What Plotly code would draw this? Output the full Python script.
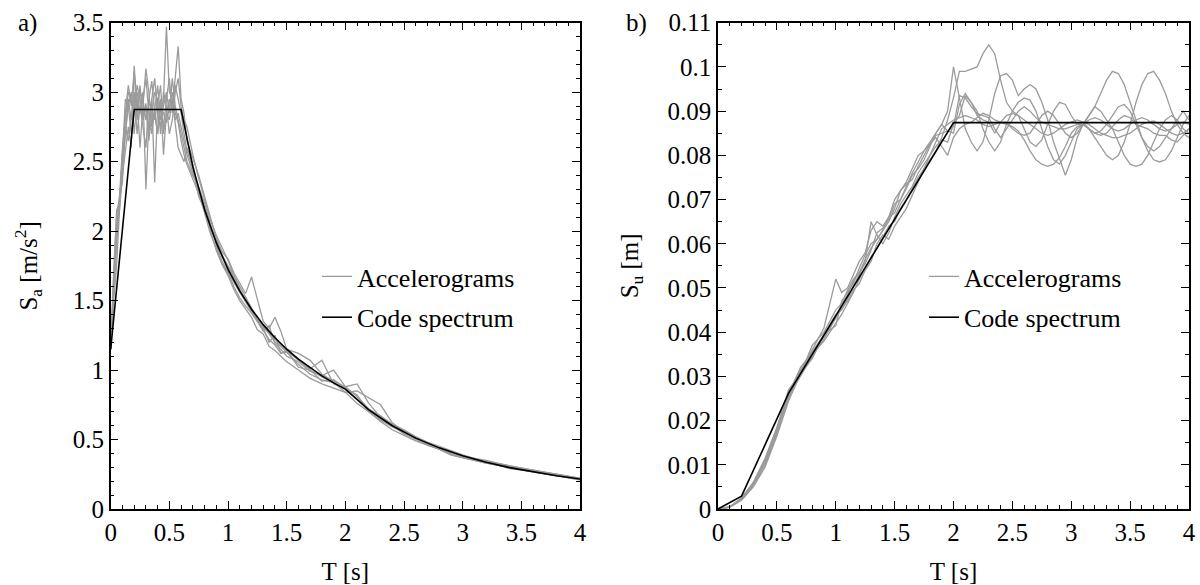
import plotly.graph_objects as go

# ---------------- Data: panel a) pseudo-acceleration spectra ----------------
T_acc = [0, 0.025, 0.05, 0.075, 0.1, 0.125, 0.15, 0.175, 0.2, 0.225, 0.25, 0.275, 0.3,
         0.325, 0.35, 0.375, 0.4, 0.425, 0.45, 0.475, 0.5, 0.525, 0.55, 0.575, 0.6, 0.625, 0.65,
         0.7, 0.75, 0.8, 0.85, 0.9, 0.95, 1.0, 1.05, 1.1, 1.15, 1.2, 1.25, 1.3, 1.35, 1.4, 1.45, 1.5,
         1.6, 1.7, 1.8, 1.9, 2.0, 2.1, 2.2, 2.3, 2.4, 2.5, 2.6, 2.7, 2.8, 2.9, 3.0,
         3.2, 3.4, 3.6, 3.8, 4.0]

sa_acc1 = [1.15, 1.60, 2.15, 2.20, 2.45, 2.75, 2.95, 2.80, 2.95, 2.88, 3.05, 2.80, 2.92, 2.70, 2.95, 3.10,
           2.85, 2.75, 2.95, 3.47, 3.00, 2.95, 2.80, 2.85, 2.75, 2.65, 2.55,
           2.42, 2.30, 2.18, 2.02, 1.92, 1.83, 1.74, 1.66, 1.58, 1.50, 1.44, 1.38, 1.32, 1.27, 1.22, 1.18, 1.14,
           1.07, 1.00, 0.95, 0.91, 0.86, 0.79, 0.71, 0.65, 0.60, 0.55, 0.51, 0.47, 0.44, 0.41, 0.38,
           0.335, 0.30, 0.265, 0.24, 0.215]
sa_acc2 = [1.15, 1.50, 1.75, 2.15, 2.40, 2.60, 2.75, 2.60, 3.19, 2.90, 2.85, 3.00, 2.30, 2.80, 2.95, 2.35,
           2.90, 3.05, 2.70, 2.85, 2.95, 2.88, 3.10, 3.33, 2.95, 2.85, 2.65,
           2.52, 2.40, 2.25, 2.10, 1.95, 1.85, 1.80, 1.70, 1.62, 1.55, 1.67, 1.50, 1.35, 1.30, 1.38, 1.28, 1.15,
           1.12, 1.07, 0.97, 0.92, 0.88, 0.90, 0.76, 0.66, 0.61, 0.57, 0.52, 0.48, 0.45, 0.42, 0.39,
           0.34, 0.31, 0.28, 0.25, 0.22]
sa_acc3 = [1.15, 1.55, 1.95, 2.18, 2.55, 2.70, 2.90, 3.00, 2.70, 2.95, 2.60, 2.90, 3.17, 3.00, 2.75, 2.85,
           2.70, 2.95, 2.55, 2.85, 2.80, 2.95, 2.75, 2.60, 2.55, 2.50, 2.60,
           2.48, 2.28, 2.12, 1.98, 1.88, 1.76, 1.68, 1.58, 1.50, 1.44, 1.38, 1.29, 1.26, 1.17, 1.14, 1.10, 1.06,
           1.00, 0.94, 0.90, 0.87, 0.84, 0.76, 0.70, 0.63, 0.57, 0.53, 0.49, 0.46, 0.43, 0.39, 0.37,
           0.33, 0.30, 0.27, 0.24, 0.21]
sa_acc4 = [1.15, 1.65, 2.05, 2.20, 2.50, 2.85, 3.05, 2.90, 3.15, 2.80, 3.00, 2.95, 3.10, 2.85, 2.70, 2.90,
           3.05, 2.80, 2.90, 3.00, 2.85, 3.10, 2.90, 2.80, 2.70, 2.58, 2.50,
           2.40, 2.32, 2.20, 2.05, 1.90, 1.78, 1.70, 1.63, 1.56, 1.49, 1.42, 1.36, 1.28, 1.32, 1.19, 1.15, 1.10,
           1.06, 0.99, 0.96, 1.00, 0.88, 0.81, 0.72, 0.66, 0.60, 0.54, 0.50, 0.46, 0.43, 0.40, 0.37,
           0.34, 0.29, 0.27, 0.24, 0.22]
sa_acc5 = [1.15, 1.58, 1.90, 2.25, 2.35, 2.75, 2.65, 2.85, 3.00, 2.70, 2.90, 2.75, 2.60, 2.95, 3.08, 2.85,
           2.70, 2.90, 2.75, 2.95, 3.10, 2.85, 3.05, 2.95, 2.85, 2.70, 2.58,
           2.45, 2.25, 2.15, 2.00, 1.86, 1.76, 1.70, 1.60, 1.52, 1.46, 1.41, 1.35, 1.29, 1.22, 1.18, 1.12, 1.13,
           1.08, 1.01, 1.07, 0.90, 0.87, 0.82, 0.70, 0.64, 0.59, 0.55, 0.51, 0.47, 0.43, 0.39, 0.37,
           0.33, 0.30, 0.27, 0.25, 0.22]
sa_acc6 = [1.15, 1.62, 2.00, 2.15, 2.55, 2.95, 2.90, 2.70, 2.85, 3.05, 2.95, 2.80, 2.90, 2.65, 2.85, 3.00,
           2.95, 2.70, 3.00, 2.90, 2.70, 2.80, 3.00, 3.10, 2.90, 2.80, 2.75,
           2.55, 2.38, 2.22, 2.08, 1.97, 1.88, 1.79, 1.68, 1.60, 1.52, 1.45, 1.37, 1.31, 1.26, 1.20, 1.17, 1.13,
           1.04, 0.97, 0.93, 0.91, 0.84, 0.85, 0.80, 0.75, 0.62, 0.56, 0.52, 0.48, 0.44, 0.41, 0.38,
           0.34, 0.31, 0.27, 0.24, 0.21]
sa_acc7 = [1.15, 1.70, 2.10, 2.25, 2.60, 2.80, 3.00, 2.95, 2.88, 3.00, 2.85, 2.95, 2.80, 2.92, 2.90, 2.80,
           2.95, 2.90, 2.85, 2.78, 2.90, 3.00, 2.85, 2.78, 2.65, 2.55, 2.48,
           2.38, 2.27, 2.16, 2.04, 1.94, 1.82, 1.75, 1.68, 1.58, 1.50, 1.43, 1.36, 1.30, 1.20, 1.25, 1.12, 1.14,
           1.02, 1.00, 0.92, 0.93, 0.87, 0.79, 0.72, 0.67, 0.61, 0.56, 0.51, 0.47, 0.44, 0.40, 0.38,
           0.35, 0.31, 0.28, 0.25, 0.22]

T_code_sa = [0, 0.2, 0.6, 0.7, 0.8, 0.9, 1.0, 1.1, 1.2, 1.3, 1.4, 1.5, 1.6, 1.7, 1.8, 1.9, 2.0,
             2.2, 2.4, 2.6, 2.8, 3.0, 3.2, 3.4, 3.6, 3.8, 4.0]
sa_code = [1.15, 2.875, 2.875, 2.464, 2.156, 1.917, 1.725, 1.568, 1.438, 1.327, 1.232, 1.150, 1.078,
           1.015, 0.958, 0.908, 0.863, 0.713, 0.599, 0.510, 0.440, 0.383, 0.337, 0.298, 0.266, 0.239, 0.216]

# ---------------- Data: panel b) displacement spectra ----------------
T_dis = [0, 0.1, 0.2, 0.3, 0.4, 0.5, 0.6, 0.7, 0.8, 0.9, 1.0,
         1.05, 1.1, 1.15, 1.2, 1.25, 1.3, 1.35, 1.4, 1.45, 1.5, 1.55, 1.6, 1.65, 1.7, 1.75, 1.8, 1.85, 1.9, 1.95, 2.0,
         2.05, 2.1, 2.15, 2.2, 2.25, 2.3, 2.35, 2.4, 2.45, 2.5, 2.55, 2.6, 2.65, 2.7, 2.75, 2.8, 2.85, 2.9, 2.95, 3.0,
         3.05, 3.1, 3.15, 3.2, 3.25, 3.3, 3.35, 3.4, 3.45, 3.5, 3.55, 3.6, 3.65, 3.7, 3.75, 3.8, 3.85, 3.9, 3.95, 4.0]

su_acc1 = [0, 0.0004, 0.0022, 0.0055, 0.0105, 0.0172, 0.0255, 0.0300, 0.0345, 0.0385, 0.0430,
           0.0455, 0.0470, 0.0495, 0.0510, 0.0540, 0.0560, 0.0600, 0.0620, 0.0610, 0.0640, 0.0660, 0.0680, 0.0710,
           0.0740, 0.0770, 0.0790, 0.0810, 0.0840, 0.0880, 0.0930,
           0.099, 0.099, 0.0995, 0.100, 0.103, 0.105, 0.103, 0.097, 0.092, 0.090,
           0.089, 0.088, 0.087, 0.086, 0.085, 0.0845, 0.085, 0.086, 0.087, 0.0875,
           0.088, 0.0875, 0.087, 0.086, 0.085, 0.0845, 0.084, 0.084, 0.0845, 0.085,
           0.086, 0.087, 0.0875, 0.0878, 0.087, 0.086, 0.085, 0.0845, 0.085, 0.086]
su_acc2 = [0, 0.0005, 0.0025, 0.0060, 0.0110, 0.0180, 0.0265, 0.0310, 0.0360, 0.0410, 0.0520,
           0.0490, 0.0500, 0.0530, 0.0560, 0.0580, 0.0630, 0.0650, 0.0640, 0.0660, 0.0700, 0.0720, 0.0740, 0.0770,
           0.0800, 0.0810, 0.0830, 0.0850, 0.0870, 0.0900, 0.1000,
           0.093, 0.086, 0.083, 0.081, 0.083, 0.088, 0.094, 0.098, 0.0985, 0.097,
           0.0935, 0.095, 0.096, 0.095, 0.092, 0.088, 0.083, 0.079, 0.0755, 0.079,
           0.084, 0.087, 0.089, 0.091, 0.094, 0.097, 0.099, 0.0985, 0.096, 0.092,
           0.088, 0.084, 0.081, 0.079, 0.0785, 0.079, 0.081, 0.084, 0.087, 0.089]
su_acc3 = [0, 0.0004, 0.0020, 0.0050, 0.0095, 0.0165, 0.0245, 0.0305, 0.0340, 0.0395, 0.0440,
           0.0450, 0.0475, 0.0505, 0.0530, 0.0560, 0.0650, 0.0620, 0.0600, 0.0625, 0.0660, 0.0690, 0.0710, 0.0730,
           0.0760, 0.0780, 0.0800, 0.0820, 0.0835, 0.0830, 0.0870,
           0.089, 0.0935, 0.092, 0.090, 0.086, 0.083, 0.081, 0.083, 0.087, 0.090,
           0.092, 0.093, 0.0925, 0.090, 0.086, 0.082, 0.079, 0.078, 0.080, 0.083,
           0.086, 0.087, 0.086, 0.084, 0.082, 0.080, 0.079, 0.080, 0.083, 0.087,
           0.092, 0.096, 0.0985, 0.099, 0.097, 0.094, 0.090, 0.087, 0.085, 0.084]
su_acc4 = [0, 0.0005, 0.0023, 0.0058, 0.0110, 0.0175, 0.0250, 0.0315, 0.0350, 0.0380, 0.0420,
           0.0440, 0.0465, 0.0490, 0.0520, 0.0545, 0.0570, 0.0590, 0.0615, 0.0640, 0.0650, 0.0680, 0.0700, 0.0725,
           0.0750, 0.0770, 0.0800, 0.0830, 0.0860, 0.0870, 0.0880,
           0.0885, 0.089, 0.0885, 0.088, 0.087, 0.0865, 0.087, 0.0875, 0.0875, 0.086,
           0.085, 0.0845, 0.085, 0.087, 0.089, 0.090, 0.089, 0.087, 0.085, 0.084,
           0.085, 0.087, 0.088, 0.0885, 0.088, 0.087, 0.086, 0.0855, 0.086, 0.087,
           0.088, 0.0885, 0.088, 0.087, 0.086, 0.0855, 0.086, 0.087, 0.0875, 0.087]
su_acc5 = [0, 0.0004, 0.0021, 0.0052, 0.0100, 0.0168, 0.0260, 0.0320, 0.0355, 0.0395, 0.0415,
           0.0470, 0.0490, 0.0510, 0.0545, 0.0575, 0.0600, 0.0610, 0.0630, 0.0650, 0.0680, 0.0720, 0.0735, 0.0745,
           0.0775, 0.0800, 0.0825, 0.0845, 0.0850, 0.0855, 0.0850,
           0.0915, 0.094, 0.092, 0.089, 0.088, 0.0875, 0.085, 0.0875, 0.089, 0.0895,
           0.089, 0.086, 0.083, 0.082, 0.0835, 0.087, 0.090, 0.092, 0.0915, 0.089,
           0.087, 0.087, 0.086, 0.085, 0.0855, 0.087, 0.089, 0.091, 0.0915, 0.090,
           0.087, 0.084, 0.082, 0.081, 0.082, 0.084, 0.086, 0.088, 0.090, 0.088]
su_acc6 = [0, 0.0005, 0.0024, 0.0060, 0.0115, 0.0185, 0.0270, 0.0305, 0.0370, 0.0400, 0.0450,
           0.0465, 0.0495, 0.0520, 0.0535, 0.0555, 0.0585, 0.0625, 0.0635, 0.0655, 0.0690, 0.0700, 0.0730, 0.0760,
           0.0785, 0.0810, 0.0825, 0.0840, 0.0820, 0.0800, 0.0840,
           0.086, 0.087, 0.0875, 0.0885, 0.0895, 0.089, 0.088, 0.0875, 0.087, 0.0865,
           0.0855, 0.0835, 0.081, 0.079, 0.078, 0.0775, 0.078, 0.0795, 0.082, 0.085,
           0.0865, 0.087, 0.089, 0.091, 0.090, 0.088, 0.086, 0.083, 0.080, 0.078,
           0.0775, 0.078, 0.080, 0.083, 0.086, 0.088, 0.089, 0.088, 0.086, 0.085]
su_acc7 = [0, 0.0004, 0.0023, 0.0057, 0.0108, 0.0178, 0.0262, 0.0312, 0.0355, 0.0390, 0.0435,
           0.0460, 0.0485, 0.0515, 0.0535, 0.0565, 0.0590, 0.0610, 0.0630, 0.0660, 0.0670, 0.0700, 0.0725, 0.0755,
           0.0770, 0.0790, 0.0820, 0.0850, 0.0870, 0.0855, 0.0865,
           0.0935, 0.093, 0.091, 0.0895, 0.089, 0.0885, 0.086, 0.084, 0.086, 0.088,
           0.090, 0.091, 0.090, 0.0885, 0.0875, 0.087, 0.0865, 0.086, 0.086, 0.0865,
           0.087, 0.0875, 0.086, 0.085, 0.0845, 0.085, 0.0865, 0.088, 0.089, 0.0885,
           0.087, 0.0865, 0.086, 0.085, 0.0845, 0.0845, 0.0835, 0.083, 0.0845, 0.086]

T_code_su = [0, 0.2, 0.6, 2.0, 4.0]
su_code = [0, 0.0029, 0.0262, 0.0874, 0.0874]

sa_sets = [sa_acc1, sa_acc2, sa_acc3, sa_acc4, sa_acc5, sa_acc6, sa_acc7]
su_sets = [su_acc1, su_acc2, su_acc3, su_acc4, su_acc5, su_acc6, su_acc7]
for s in sa_sets:
    assert len(s) == len(T_acc), len(s)
for s in su_sets:
    assert len(s) == len(T_dis), len(s)

# ---------------- Styling ----------------
FONT = "Liberation Serif, Times New Roman, Times, serif"
FS = 25
FS_LEG = 26
GRAY = "rgb(155,155,155)"
W, H = 1200, 585
TOP, BOT = 22.7, 509

fig = go.Figure()

for i, s in enumerate(sa_sets):
    fig.add_trace(go.Scatter(x=T_acc, y=s, mode="lines", line=dict(color=GRAY, width=1.3),
                             name="Accelerograms", legendgroup="acc", showlegend=(i == 0),
                             legend="legend", xaxis="x", yaxis="y"))
fig.add_trace(go.Scatter(x=T_code_sa, y=sa_code, mode="lines", line=dict(color="black", width=1.6),
                         name="Code spectrum", legendgroup="code", legend="legend", xaxis="x", yaxis="y"))

for i, s in enumerate(su_sets):
    fig.add_trace(go.Scatter(x=T_dis, y=s, mode="lines", line=dict(color=GRAY, width=1.3),
                             name="Accelerograms", legendgroup="acc2", showlegend=(i == 0),
                             legend="legend2", xaxis="x2", yaxis="y2"))
fig.add_trace(go.Scatter(x=T_code_su, y=su_code, mode="lines", line=dict(color="black", width=1.6),
                         name="Code spectrum", legendgroup="code2", legend="legend2", xaxis="x2", yaxis="y2"))

ax_common = dict(showline=True, linecolor="black", linewidth=1.5, mirror="allticks",
                 ticks="inside", ticklen=8, tickwidth=1.3, tickcolor="black",
                 showgrid=False, zeroline=False, automargin=False,
                 tickfont=dict(family=FONT, size=FS, color="black"))
minor_x = dict(dtick=0.1, ticks="inside", ticklen=4, tickcolor="black")

y_dom = [(H - BOT) / H, (H - TOP) / H]

fig.update_layout(
    width=W, height=H,
    margin=dict(l=0, r=0, t=0, b=0, autoexpand=False),
    paper_bgcolor="white", plot_bgcolor="white",
    font=dict(family=FONT, size=FS, color="black"),
    xaxis=dict(domain=[110.7 / W, 580 / W], range=[0, 4], dtick=0.5, anchor="y",
               minor=minor_x,
               title=dict(text="T [s]", font=dict(family=FONT, size=FS), standoff=19),
               **ax_common),
    yaxis=dict(domain=y_dom, range=[0, 3.5], dtick=0.5, anchor="x",
               minor=dict(dtick=0.1, ticks="inside", ticklen=4, tickcolor="black"),
               title=dict(text="S<sub>a</sub> [m/s<sup>2</sup>]", font=dict(family=FONT, size=FS), standoff=28),
               **ax_common),
    xaxis2=dict(domain=[718 / W, 1189 / W], range=[0, 4], dtick=0.5, anchor="y2",
                minor=minor_x,
                title=dict(text="T [s]", font=dict(family=FONT, size=FS), standoff=19),
                **ax_common),
    yaxis2=dict(domain=y_dom, range=[0, 0.11], dtick=0.01, anchor="x2",
                minor=dict(dtick=0.005, ticks="inside", ticklen=4, tickcolor="black"),
                title=dict(text="S<sub>u</sub> [m]", font=dict(family=FONT, size=FS), standoff=22),
                **ax_common),
    legend=dict(x=317 / W, y=(H - 253) / H, xanchor="left", yanchor="top",
                bgcolor="rgba(0,0,0,0)", borderwidth=0, itemwidth=30,
                traceorder="grouped", tracegroupgap=4,
                font=dict(family=FONT, size=FS_LEG, color="black")),
    legend2=dict(x=924 / W, y=(H - 253) / H, xanchor="left", yanchor="top",
                 bgcolor="rgba(0,0,0,0)", borderwidth=0, itemwidth=30,
                 traceorder="grouped", tracegroupgap=4,
                 font=dict(family=FONT, size=FS_LEG, color="black")),
    annotations=[
        dict(text="a)", x=16 / W, y=(H - 23) / H, xref="paper", yref="paper",
             xanchor="left", yanchor="middle", showarrow=False,
             font=dict(family=FONT, size=FS, color="black")),
        dict(text="b)", x=624 / W, y=(H - 23) / H, xref="paper", yref="paper",
             xanchor="left", yanchor="middle", showarrow=False,
             font=dict(family=FONT, size=FS, color="black")),
    ],
)

fig.write_html("out.html")
